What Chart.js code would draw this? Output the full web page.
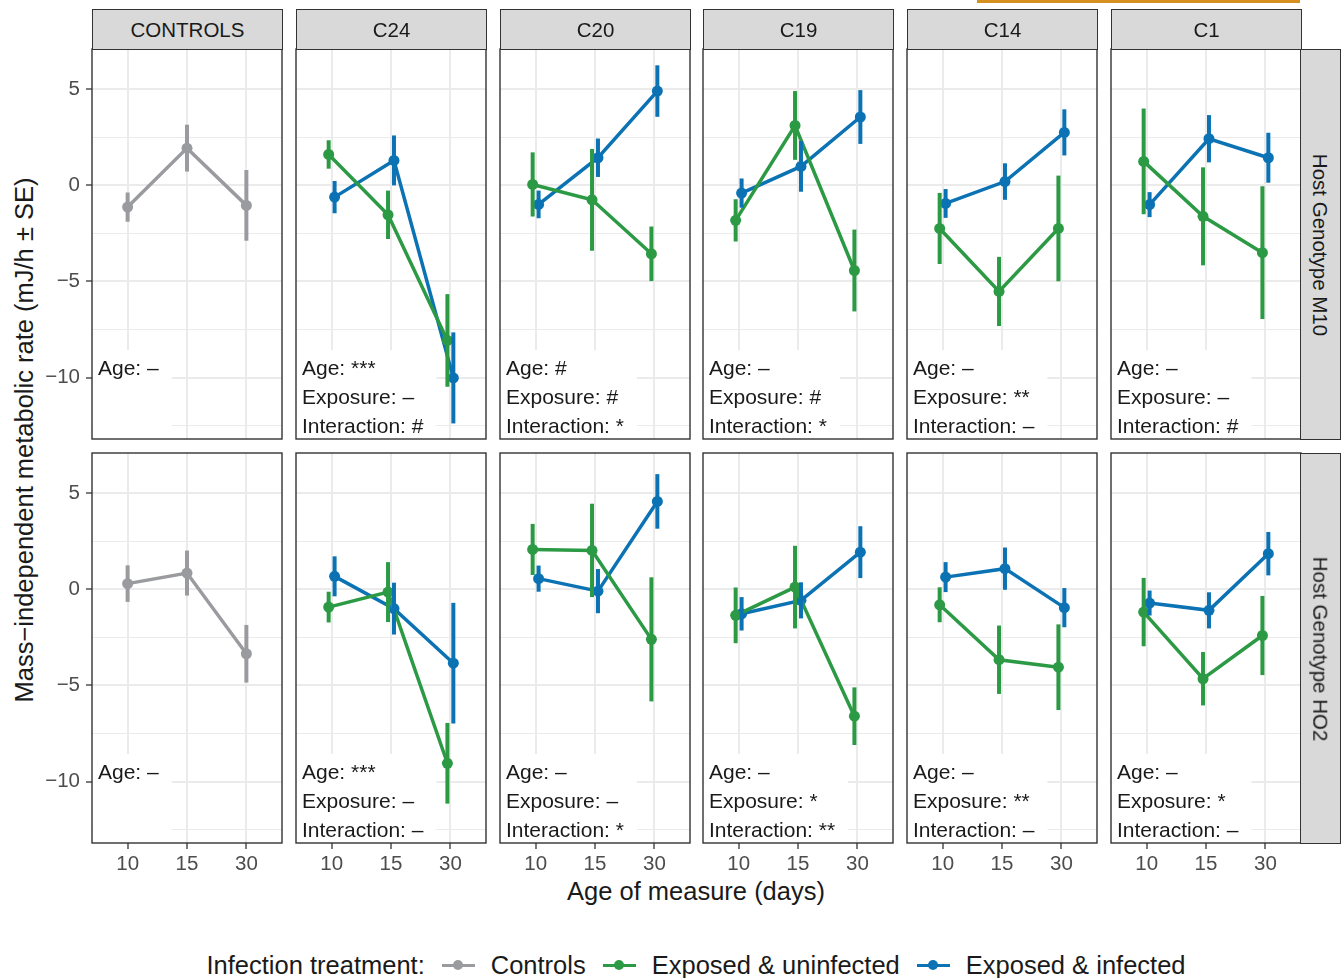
<!DOCTYPE html>
<html>
<head>
<meta charset="utf-8">
<script src="https://cdn.jsdelivr.net/npm/chart.js@4"></script>
<style>
body { margin: 0; background: #fff; font-family: "Liberation Sans", Arial, sans-serif; color: #1a1a1a; }
#wrap { position: relative; width: 1344px; height: 978px; overflow: hidden; }
canvas { position: absolute; }
.strip { position: absolute; background: #d9d9d9; border: 1.4px solid #333; box-sizing: border-box;
  display: flex; align-items: center; justify-content: center; font-size: 20.5px; }
.vstrip span { transform: rotate(90deg); white-space: nowrap; }
.title { position: absolute; font-size: 25.5px; white-space: nowrap; }
#legend { position: absolute; left: 0; width: 1392px; top: 950px; height: 30px; display: flex; align-items: center;
  justify-content: center; font-size: 25.5px; white-space: nowrap; }
.key { position: relative; width: 33px; height: 30px; margin: 0 16px 0 17px; }
.key i { position: absolute; left: 0; right: 0; top: 13.5px; height: 3px; }
.key b { position: absolute; left: 11.5px; top: 10px; width: 10px; height: 10px; border-radius: 50%; }
#orange { position: absolute; left: 977px; top: 0; width: 323px; height: 3px; background: #d6901f; }
</style>
</head>
<body>
<div id="wrap">
  <div id="orange"></div>
  <div class="title" id="ytitle" style="left:24px;top:440px;transform:translate(-50%,-50%) rotate(-90deg);">Mass−independent metabolic rate (mJ/h ± SE)</div>
  <div class="title" style="left:696px;top:891px;transform:translate(-50%,-50%);">Age of measure (days)</div>
  <div id="legend"></div>
</div>
<script>
const ages = ['10', '15', '30']
const strains = ['CONTROLS', 'C24', 'C20', 'C19', 'C14', 'C1']
const genotypes = ['Host Genotype M10', 'Host Genotype HO2']
const treatments = ['Controls', 'Exposed & uninfected', 'Exposed & infected']
const colors = ['#9a9b9f', '#2c9a45', '#0b72b4']

// Host genotype M10
const m10Controls = [-1.13, 1.94, -1.04]
const m10ControlsSE = [0.76, 1.22, 1.84]
// per strain C24, C20, C19, C14, C1 ; ages 10, 15, 30
const m10Uninf = [[1.61, -1.53, -8.07], [0.05, -0.75, -3.56], [-1.82, 3.12, -4.43], [-2.24, -5.52, -2.24], [1.25, -1.61, -3.5]]
const m10UninfSE = [[0.74, 1.26, 2.41], [1.67, 2.65, 1.42], [1.1, 1.79, 2.13], [1.85, 1.8, 2.75], [2.75, 2.55, 3.45]]
const m10Inf = [[-0.61, 1.3, -10.02], [-0.99, 1.44, 4.91], [-0.4, 0.99, 3.56], [-0.94, 0.2, 2.76], [-1.0, 2.43, 1.44]]
const m10InfSE = [[0.84, 1.3, 2.37], [0.72, 1.0, 1.34], [0.76, 1.32, 1.4], [0.75, 0.95, 1.2], [0.65, 1.23, 1.3]]
const m10Stats = [
    ['Age: –'],
    ['Age: ***', 'Exposure: –', 'Interaction: #'],
    ['Age: #', 'Exposure: #', 'Interaction: *'],
    ['Age: –', 'Exposure: #', 'Interaction: *'],
    ['Age: –', 'Exposure: **', 'Interaction: –'],
    ['Age: –', 'Exposure: –', 'Interaction: #']
]

// Host genotype HO2
const ho2Controls = [0.3, 0.85, -3.35]
const ho2ControlsSE = [0.95, 1.17, 1.5]
const ho2Uninf = [[-0.92, -0.14, -9.05], [2.08, 2.03, -2.6], [-1.35, 0.12, -6.6], [-0.8, -3.66, -4.05], [-1.18, -4.65, -2.4]]
const ho2UninfSE = [[0.8, 1.56, 2.1], [1.33, 2.43, 3.23], [1.45, 2.15, 1.5], [0.91, 1.78, 2.23], [1.78, 1.39, 2.06]]
const ho2Inf = [[0.68, -1.0, -3.84], [0.56, -0.09, 4.58], [-1.27, -0.57, 1.94], [0.64, 1.08, -0.95], [-0.71, -1.09, 1.86]]
const ho2InfSE = [[1.04, 1.35, 3.14], [0.68, 1.15, 1.42], [0.87, 0.94, 1.35], [0.78, 1.1, 1.02], [0.65, 0.94, 1.13]]
const ho2Stats = [
    ['Age: –'],
    ['Age: ***', 'Exposure: –', 'Interaction: –'],
    ['Age: –', 'Exposure: –', 'Interaction: *'],
    ['Age: –', 'Exposure: *', 'Interaction: **'],
    ['Age: –', 'Exposure: **', 'Interaction: –'],
    ['Age: –', 'Exposure: *', 'Interaction: –']
]

const yTicks = [-12.5, -10, -7.5, -5, -2.5, 0, 2.5, 5]
const FONT = '"Liberation Sans", Arial, sans-serif'

const panelLeft = [92, 296, 500, 703, 907, 1111]
const panelTop = [49, 453]
const PW = 190, PH = 390

// error bars: mean +/- SE, drawn through the y scale
const errorBars = {
    id: 'errorBars',
    afterDatasetsDraw(chart) {
        const { ctx } = chart
        const yScale = chart.scales.y
        chart.data.datasets.forEach(function (ds, di) {
            const meta = chart.getDatasetMeta(di)
            ctx.save()
            ctx.strokeStyle = ds.borderColor
            ctx.lineWidth = 4
            meta.data.forEach(function (pt, i) {
                const v = ds.data[i].y
                const e = ds.se[i]
                ctx.beginPath()
                ctx.moveTo(pt.x, yScale.getPixelForValue(v - e))
                ctx.lineTo(pt.x, yScale.getPixelForValue(v + e))
                ctx.stroke()
            })
            ctx.restore()
        })
    }
}

// stats text with white box, under the data
const statLabel = {
    id: 'statLabel',
    beforeDatasetsDraw(chart, args, opts) {
        const { ctx, chartArea } = chart
        ctx.save()
        ctx.font = '21px ' + FONT
        const w = Math.max(...opts.lines.map(l => ctx.measureText(l).width))
        ctx.fillStyle = '#fff'
        ctx.fillRect(chartArea.left + 1, chartArea.top + 301, w + 18, chartArea.bottom - chartArea.top - 301)
        ctx.fillStyle = '#1a1a1a'
        ctx.textBaseline = 'middle'
        opts.lines.forEach(function (l, i) {
            ctx.fillText(l, chartArea.left + 6, chartArea.top + 320 + i * 29)
        })
        ctx.restore()
    }
}

const frame = {
    id: 'frame',
    afterDraw(chart) {
        const { ctx, chartArea } = chart
        ctx.save()
        ctx.strokeStyle = '#333'
        ctx.lineWidth = 1.4
        ctx.strokeRect(chartArea.left, chartArea.top, chartArea.right - chartArea.left, chartArea.bottom - chartArea.top)
        ctx.restore()
    }
}

function series(label, mean, se, color, dx) {
    return {
        label: label,
        se: se,
        data: mean.map((v, i) => ({ x: i + 1 + dx, y: v })),
        borderColor: color,
        backgroundColor: color,
        borderWidth: 3.5,
        pointRadius: 5.5,
        pointBorderWidth: 0,
        pointHoverRadius: 5.5,
        tension: 0
    }
}

const wrap = document.getElementById('wrap')

function makePanel(row, col) {
    const first = col === 0
    const bottom = row === 1
    const canvas = document.createElement('canvas')
    const left = first ? 0 : panelLeft[col] - 2
    const width = first ? panelLeft[0] + PW + 2 : PW + 4
    const height = 2 + PH + (bottom ? 40 : 2)
    canvas.width = width
    canvas.height = height
    canvas.style.left = left + 'px'
    canvas.style.top = (panelTop[row] - 2) + 'px'
    wrap.appendChild(canvas)

    let datasets
    if (first) {
        const m = row === 0 ? m10Controls : ho2Controls
        const s = row === 0 ? m10ControlsSE : ho2ControlsSE
        datasets = [series(treatments[0], m, s, colors[0], 0)]
    } else {
        const k = col - 1
        datasets = row === 0
            ? [series(treatments[1], m10Uninf[k], m10UninfSE[k], colors[1], -0.05),
               series(treatments[2], m10Inf[k], m10InfSE[k], colors[2], 0.05)]
            : [series(treatments[1], ho2Uninf[k], ho2UninfSE[k], colors[1], -0.05),
               series(treatments[2], ho2Inf[k], ho2InfSE[k], colors[2], 0.05)]
    }
    const lines = (row === 0 ? m10Stats : ho2Stats)[col]

    new Chart(canvas, {
        type: 'line',
        data: { datasets: datasets },
        options: {
            responsive: false,
            animation: false,
            events: [],
            layout: { autoPadding: false, padding: { top: 2, right: 2, left: first ? 0 : 2, bottom: bottom ? 0 : 2 } },
            plugins: {
                legend: { display: false },
                tooltip: { enabled: false },
                statLabel: { lines: lines }
            },
            scales: {
                x: {
                    type: 'linear',
                    min: 0.4,
                    max: 3.6,
                    afterBuildTicks: function (s) { s.ticks = [1, 2, 3].map(v => ({ value: v })) },
                    afterFit: function (s) { s.height = bottom ? 40 : 0; s.paddingLeft = 0; s.paddingRight = 0 },
                    border: { display: false },
                    grid: { color: '#ebebeb', lineWidth: 2, drawTicks: bottom, tickLength: 6, tickColor: '#333', tickWidth: 1.3 },
                    ticks: {
                        display: bottom,
                        autoSkip: false,
                        maxRotation: 0,
                        padding: 3,
                        color: '#4d4d4d',
                        font: { family: FONT, size: 20.5 },
                        callback: (v, i) => ages[i]
                    }
                },
                y: {
                    min: -13.2,
                    max: 7.1,
                    afterBuildTicks: function (s) { s.ticks = yTicks.map(v => ({ value: v })) },
                    afterFit: function (s) { s.width = first ? panelLeft[0] : 0; s.paddingTop = 0; s.paddingBottom = 0 },
                    border: { display: false },
                    grid: {
                        color: '#ebebeb',
                        lineWidth: c => (c.tick && c.tick.value % 5 === 0 ? 2 : 1),
                        drawTicks: first,
                        tickLength: 6,
                        tickWidth: 1.3,
                        tickColor: c => (c.tick && c.tick.value % 5 === 0 ? '#333' : 'rgba(0,0,0,0)')
                    },
                    ticks: {
                        display: first,
                        padding: 6,
                        color: '#4d4d4d',
                        font: { family: FONT, size: 20.5 },
                        callback: v => (v % 5 === 0 ? String(v).replace('-', '\u2212') : '')
                    }
                }
            }
        },
        plugins: [statLabel, errorBars, frame]
    })
}

for (let r = 0; r < 2; r++) {
    for (let c = 0; c < 6; c++) makePanel(r, c)
}

// facet strips
strains.forEach(function (s, c) {
    const d = document.createElement('div')
    d.className = 'strip'
    d.style.cssText = 'left:' + panelLeft[c] + 'px;top:9px;width:' + (PW + 1) + 'px;height:41px;'
    d.textContent = s
    wrap.appendChild(d)
})
genotypes.forEach(function (g, r) {
    const d = document.createElement('div')
    d.className = 'strip vstrip'
    d.style.cssText = 'left:1300px;top:' + panelTop[r] + 'px;width:41px;height:' + (PH + 1) + 'px;'
    d.innerHTML = '<span>' + g + '</span>'
    wrap.appendChild(d)
})

// legend
const legend = document.getElementById('legend')
let html = '<span>Infection treatment:</span>'
treatments.forEach(function (t, i) {
    html += '<span class="key"><i style="background:' + colors[i] + '"></i><b style="background:' + colors[i] + '"></b></span><span>' + t + '</span>'
})
legend.innerHTML = html
</script>
</body>
</html>
